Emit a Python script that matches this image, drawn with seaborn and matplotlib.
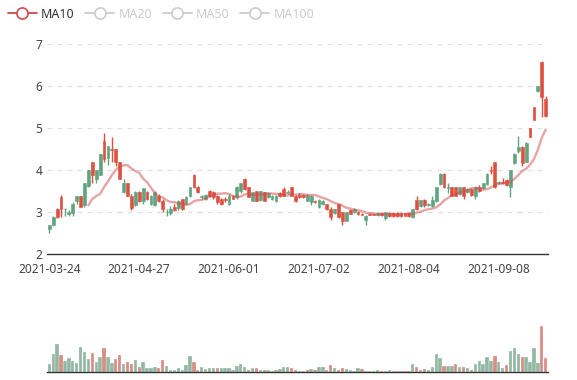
import numpy as np
import pandas as pd
import matplotlib
matplotlib.use("Agg")
import matplotlib.pyplot as plt
import seaborn as sns
from matplotlib.lines import Line2D

# ---------------- data ----------------
open_ = [2.69, 2.89, 2.89, 3.08, 3.08, 2.99, 3.19, 3.39, 3.11, 3.69,
         3.99, 3.87, 3.99, 4.39, 4.26, 4.58, 4.48, 4.19, 3.79, 3.69,
         3.37, 3.10, 3.48, 3.27, 3.57, 3.31, 3.39, 3.47, 3.27, 3.08,
         3.01, 3.08, 3.05, 3.27, 3.08, 3.35, 3.59, 3.59, 3.47, 3.38,
         3.40, 3.37, 3.35, 3.23, 3.19, 3.29, 3.39, 3.31, 3.59, 3.68,
         3.55, 3.36, 3.47, 3.27, 3.49, 3.27, 3.45, 3.39, 3.39, 3.37,
         3.39, 3.48, 3.39, 3.27, 3.35, 3.35, 3.41, 3.38, 3.24, 3.28,
         3.27, 3.07, 2.87, 3.07, 2.87, 2.79, 2.99, 2.96, 3.07, 2.95,
         2.94, 2.91, 2.94, 2.94, 2.98, 2.92, 2.99, 2.90, 2.90, 2.90,
         2.90, 2.91, 2.90, 3.07, 3.07, 3.28, 3.17, 3.19, 3.28, 3.59,
         3.91, 3.59, 3.60, 3.39, 3.39, 3.59, 3.39, 3.55, 3.40, 3.59,
         3.51, 3.68, 3.91, 3.98, 3.59, 3.72, 3.68, 3.65, 3.99, 4.39,
         4.55, 4.17, 4.65, 4.78, 5.18, 6.00, 5.74, 5.28]
close = [2.59, 2.69, 3.08, 3.36, 3.06, 2.96, 2.98, 3.27, 3.39, 3.17,
         3.63, 4.18, 3.79, 3.87, 4.70, 4.28, 4.50, 4.49, 4.18, 3.48,
         3.69, 3.39, 3.17, 3.48, 3.27, 3.48, 3.19, 3.17, 3.39, 3.27,
         2.99, 2.97, 3.13, 3.10, 3.30, 3.20, 3.37, 3.88, 3.59, 3.36,
         3.30, 3.50, 3.47, 3.39, 3.31, 3.31, 3.19, 3.39, 3.35, 3.49,
         3.79, 3.59, 3.27, 3.49, 3.28, 3.47, 3.36, 3.30, 3.27, 3.45,
         3.55, 3.46, 3.59, 3.39, 3.41, 3.41, 3.27, 3.25, 3.26, 3.12,
         3.19, 3.19, 3.07, 2.97, 3.19, 2.99, 2.79, 3.05, 2.99, 3.00,
         2.96, 2.81, 2.96, 2.96, 2.92, 2.98, 2.86, 2.98, 2.98, 2.98,
         2.98, 2.97, 2.98, 2.87, 3.28, 3.15, 3.28, 3.17, 3.15, 3.27,
         3.67, 3.91, 3.56, 3.59, 3.59, 3.42, 3.59, 3.47, 3.55, 3.39,
         3.59, 3.56, 3.67, 4.00, 4.18, 3.68, 3.72, 3.75, 3.59, 4.17,
         4.45, 4.55, 4.20, 5.00, 5.49, 5.87, 6.58, 5.70]
high = [2.69, 2.90, 3.10, 3.40, 3.09, 3.04, 3.25, 3.39, 3.39, 3.69,
        3.99, 4.18, 3.99, 4.39, 4.89, 4.58, 4.78, 4.49, 4.18, 3.79,
        3.69, 3.42, 3.50, 3.50, 3.57, 3.50, 3.40, 3.50, 3.42, 3.30,
        3.08, 3.15, 3.20, 3.28, 3.30, 3.37, 3.60, 3.90, 3.62, 3.40,
        3.42, 3.52, 3.50, 3.40, 3.33, 3.35, 3.42, 3.40, 3.62, 3.70,
        3.82, 3.60, 3.48, 3.50, 3.50, 3.48, 3.46, 3.40, 3.40, 3.47,
        3.60, 3.52, 3.60, 3.40, 3.45, 3.43, 3.42, 3.40, 3.28, 3.30,
        3.28, 3.20, 3.11, 3.08, 3.20, 3.00, 3.00, 3.07, 3.09, 3.02,
        2.98, 2.92, 2.98, 2.98, 3.00, 3.00, 3.00, 3.00, 2.99, 2.99,
        3.00, 2.98, 3.00, 3.08, 3.38, 3.29, 3.30, 3.21, 3.38, 3.60,
        3.92, 3.92, 3.70, 3.60, 3.60, 3.60, 3.60, 3.58, 3.56, 3.60,
        3.65, 3.70, 3.92, 4.10, 4.19, 3.74, 3.80, 3.78, 4.00, 4.40,
        4.80, 4.56, 4.66, 5.00, 5.49, 6.01, 6.60, 5.75]
low = [2.50, 2.66, 2.86, 2.87, 2.90, 2.90, 2.90, 3.20, 3.11, 3.12,
       3.60, 3.70, 3.70, 3.87, 4.18, 4.13, 4.20, 4.10, 3.79, 3.46,
       3.37, 3.05, 3.15, 3.25, 3.20, 3.28, 3.17, 3.15, 3.25, 3.00,
       2.90, 2.93, 3.03, 3.05, 3.05, 3.18, 3.35, 3.57, 3.45, 3.32,
       3.28, 3.35, 3.30, 3.20, 3.17, 3.25, 3.17, 3.30, 3.30, 3.45,
       3.53, 3.35, 3.26, 3.26, 3.27, 3.26, 3.33, 3.28, 3.25, 3.35,
       3.37, 3.44, 3.37, 3.25, 3.33, 3.33, 3.26, 3.17, 3.22, 3.10,
       3.17, 3.05, 2.80, 2.95, 2.85, 2.70, 2.78, 2.95, 2.97, 2.93,
       2.92, 2.70, 2.92, 2.92, 2.90, 2.90, 2.82, 2.88, 2.88, 2.88,
       2.89, 2.90, 2.88, 2.86, 3.05, 3.13, 3.12, 3.15, 3.12, 3.25,
       3.65, 3.57, 3.45, 3.37, 3.37, 3.40, 3.30, 3.45, 3.38, 3.30,
       3.48, 3.55, 3.65, 3.90, 3.58, 3.66, 3.66, 3.63, 3.35, 4.15,
       4.40, 4.10, 4.18, 4.78, 5.18, 5.86, 5.26, 5.26]
volume = [8, 18, 28, 17, 11, 13.7, 11, 8.7, 25, 20,
          13, 19, 10, 15, 24, 15, 8.7, 13, 16.7, 7.7,
          10.3, 8.3, 12, 5, 10, 4.3, 4.3, 5, 3.7, 12,
          6, 2, 2, 3.7, 2, 7.3, 16, 9.7, 2, 5.3,
          3.3, 4, 3.7, 3.7, 3.7, 4.3, 4.3, 1.7, 6.3, 7.7,
          5.3, 2.3, 3.7, 3.7, 2, 2, 2, 1.3, 2, 3,
          5.3, 4.7, 3.7, 2, 1, 1, 1.7, 3, 2, 4.7,
          4.7, 2, 7, 4.3, 1.7, 3.7, 3, 2, 1, 3.7,
          2.7, 1, 1, 1.3, 1.7, 1, 1, 2, 0.7, 0.7,
          1.3, 0.7, 0.7, 7.7, 4.7, 1.7, 3, 2, 5.3, 17.7,
          14.3, 6, 6, 6, 8, 5.3, 5.3, 4.3, 2, 8,
          11.3, 7.7, 15.3, 11, 16, 9.7, 4, 6.7, 20.7, 24.3,
          17.7, 15.3, 15, 10, 24.3, 9, 46, 14]
volume_sign = list("gggrgggggg" "grggrggrrg" "rrgrggggrr" "gggggggrrg"
                   "gggrgggggg" "grgrgrgggg" "ggrrggrgrg" "grrgrrgggg"
                   "rggggrggrr" "rrrgrgrggg" "grggrgrgrg" "ggggrggrgg"
                   "grggggrr")
tick_index = [0, 23, 46, 69, 92, 115]
tick_labels = ["2021-03-24", "2021-04-27", "2021-06-01",
               "2021-07-02", "2021-08-04", "2021-09-08"]
legend_names = ["MA10", "MA20", "MA50", "MA100"]

# ---------------- styling ----------------
UP = "#dd5040"
DOWN = "#5fa37f"
MA_COLOR = "#d14a4a"
AXIS = "#333333"
LABEL = "#444444"

sns.set_theme(style="white")
plt.rcParams["font.family"] = ["Noto Sans", "DejaVu Sans"]

df = pd.DataFrame({"open": open_, "close": close, "high": high, "low": low,
                   "volume": volume, "vsign": volume_sign})
df["idx"] = np.arange(len(df))
# echarts-style MA10: first value at index 10, mean of the 10 closes ending at i
ma = df["close"].rolling(10).mean().to_numpy()
ma[:10] = np.nan
df["ma10"] = ma

fig = plt.figure(figsize=(5.77, 3.80), dpi=100)
W, H = 577.0, 380.0
x0, x1 = 47.35, 547.6
ax = fig.add_axes([x0 / W, (H - 254) / H, (x1 - x0) / W, 210 / H])
axv = fig.add_axes([x0 / W, (H - 372) / H, (x1 - x0) / W, 50 / H])

# candles
up = df["close"] >= df["open"]
colors = np.where(up, UP, DOWN)
ax.vlines(df["idx"], df["low"], df["high"], colors=colors, linewidth=1.0, zorder=3)
body_bottom = np.minimum(df["open"], df["close"])
body_h = np.maximum(np.abs(df["close"] - df["open"]), 0.012)
ax.bar(df["idx"], body_h, bottom=body_bottom, width=0.72, color=colors,
       edgecolor=colors, linewidth=0.4, zorder=4)

# MA10 line
sns.lineplot(data=df, x="idx", y="ma10", ax=ax, color=MA_COLOR, alpha=0.5,
             linewidth=1.7, zorder=5)

ax.set_xlim(-0.5, len(df) - 0.5)
ax.set_ylim(2, 7)
ax.set_yticks([2, 3, 4, 5, 6, 7])
ax.set_yticklabels(["2", "3", "4", "5", "6", "7"])
for yv in [3, 4, 5, 6, 7]:
    ax.axhline(yv, color="#e0e0e0", linewidth=0.9, linestyle=(0, (4, 4)), zorder=1)
ax.set_xticks(tick_index)
ax.set_xticklabels(tick_labels)
ax.tick_params(axis="x", length=4, width=1, color=AXIS, direction="out",
               pad=2.5, labelsize=8.6, labelcolor=LABEL)
ax.tick_params(axis="y", length=0, pad=3.5, labelsize=8.6, labelcolor=LABEL)
for s in ["left", "right", "top"]:
    ax.spines[s].set_visible(False)
ax.spines["bottom"].set_color(AXIS)
ax.spines["bottom"].set_linewidth(1.0)
ax.set_xlabel("")
ax.set_ylabel("")
ax.grid(False)

# volume
pal = {"r": UP, "g": DOWN}
sns.barplot(data=df, x="idx", y="volume", hue="vsign", palette=pal, dodge=False,
            native_scale=True, legend=False, ax=axv, width=0.86, alpha=0.72,
            edgecolor="white", linewidth=0.3)
axv.set_xlim(-0.5, len(df) - 0.5)
axv.set_ylim(0, 50)
axv.set_xticks([])
axv.set_yticks([])
for s in ["left", "right", "top"]:
    axv.spines[s].set_visible(False)
axv.spines["bottom"].set_color(AXIS)
axv.spines["bottom"].set_linewidth(1.0)
axv.set_xlabel("")
axv.set_ylabel("")

# legend
leg_colors = [MA_COLOR, "#cccccc", "#cccccc", "#cccccc"]
handles = [Line2D([0], [0], color=c, lw=1.3, marker="o", markersize=8,
                  markerfacecolor="white", markeredgecolor=c, markeredgewidth=1.2)
           for c in leg_colors]
leg = fig.legend(handles, legend_names, loc="upper left", bbox_to_anchor=(0.002, 0.998),
                 ncol=4, frameon=False, handlelength=2.3, handletextpad=0.35,
                 columnspacing=0.85, fontsize=9.0, borderaxespad=0.15)
for t, c in zip(leg.get_texts(), ["#333333", "#cccccc", "#cccccc", "#cccccc"]):
    t.set_color(c)

fig.savefig("out.png", dpi=100)
